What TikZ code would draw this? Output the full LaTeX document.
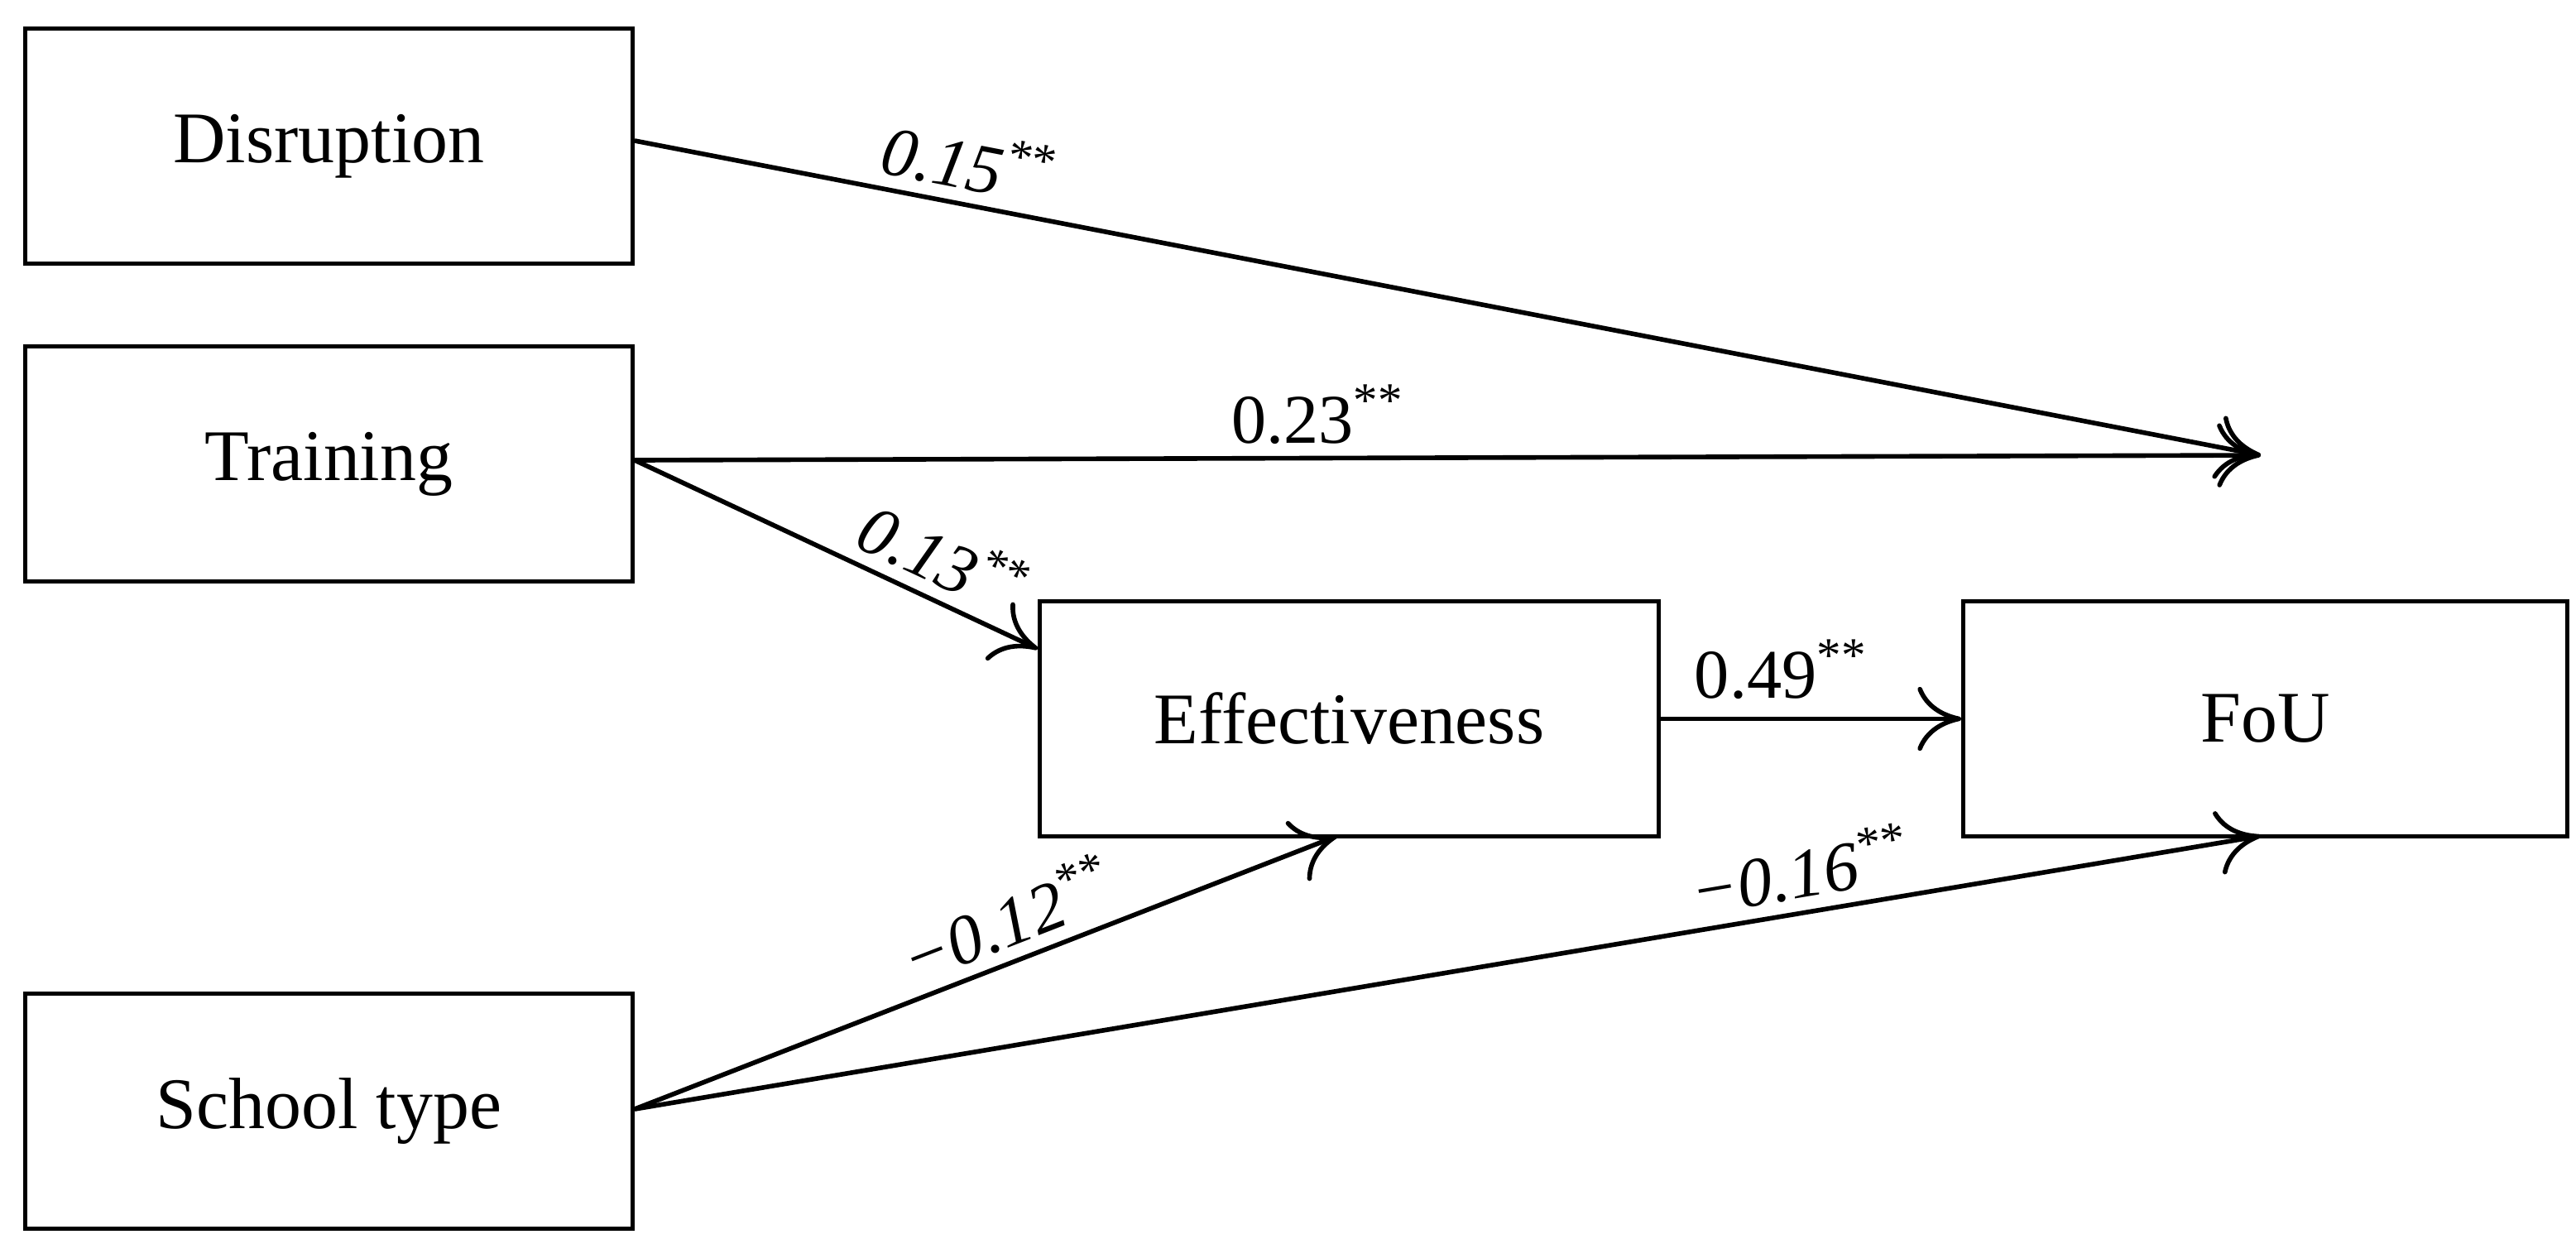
\documentclass[tikz,border=0pt]{standalone}
\usepackage{fontspec}
\setmainfont{Liberation Serif}
\usetikzlibrary{arrows.meta}
\begin{document}
\begin{tikzpicture}[x=0.02cm,y=-0.02cm,
  box/.style={draw,line width=1.4pt,minimum width=367*0.02cm,minimum height=142*0.02cm,font=\fontsize{25}{30}\selectfont,anchor=north west,inner sep=0pt},
  arr/.style={line width=1.6pt,-{To[length=15pt,width=22pt,line width=1.6pt]}},
  lab/.style={font=\fontsize{24}{30}\selectfont,sloped,above,inner sep=4pt}]
\useasboundingbox (0,0) rectangle (1556.5,751);
\node[box] (dis) at (14,16) {Disruption};
\node[box] (tra) at (14,208) {Training};
\node[box] (sch) at (14,599) {School type};
\node[box,minimum width=374*0.02cm] (eff) at (627,362) {Effectiveness};
\node[box,minimum width=365*0.02cm] (fou) at (1185,362) {FoU};
\coordinate (f1) at (1366,275);
\coordinate (f2) at (1366,505);
\coordinate (e1) at (627,392);
\coordinate (e2) at (808,505);
\draw[arr] (dis.east |- 0,85) -- node[lab,pos=0.2]{\itshape 0.15\textsuperscript{**}} (f1);
\draw[arr] (tra.east |- 0,278) -- node[lab,pos=0.42]{0.23\textsuperscript{**}} (f1);
\draw[arr] (tra.east |- 0,278) -- node[lab,pos=0.72]{\itshape 0.13\textsuperscript{**}} (e1);
\draw[arr] (eff.east) -- node[lab,pos=0.4,inner sep=6pt]{0.49\textsuperscript{**}} (fou.west);
\draw[arr] (sch.east |- 0,670) -- node[lab,pos=0.55]{\itshape −0.12\textsuperscript{**}} (e2);
\draw[arr] (sch.east |- 0,670) -- node[lab,pos=0.72]{\itshape −0.16\textsuperscript{**}} (f2);
\end{tikzpicture}
\end{document}
